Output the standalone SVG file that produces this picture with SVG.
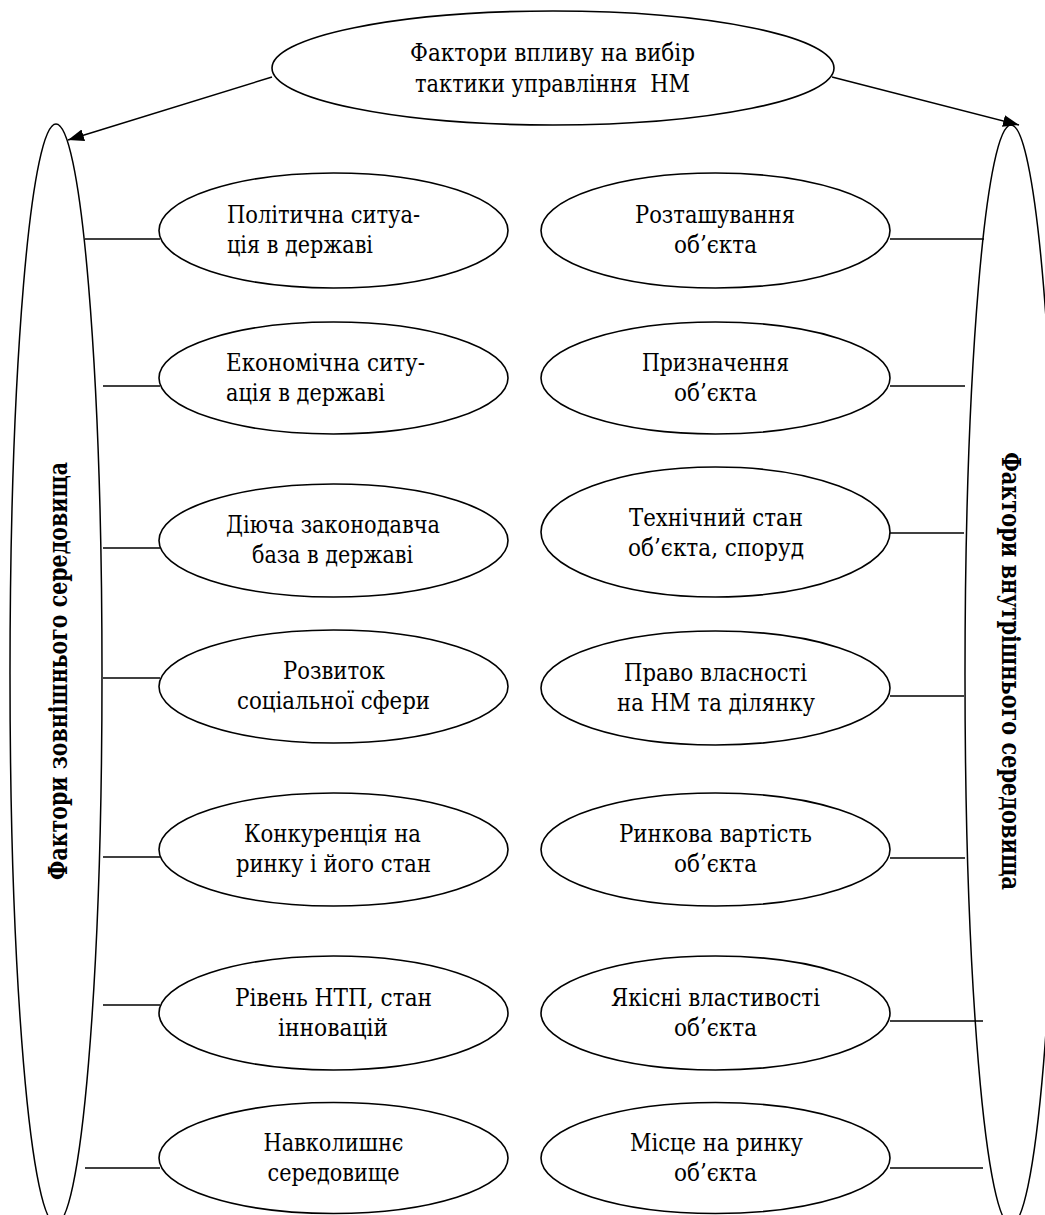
<svg xmlns="http://www.w3.org/2000/svg" width="1045" height="1215" viewBox="0 0 1045 1215">
<style>
  .bg { fill: #ffffff; }
  .node ellipse { fill: #ffffff; stroke: #000000; stroke-width: 1.6; }
  .big ellipse { fill: none; stroke: #000000; stroke-width: 1.5; }
  text { font-family: "DejaVu Serif", "Liberation Serif", serif; font-stretch: condensed; fill: #000000; }
  .t { font-size: 25px; text-anchor: middle; }
  .ts { font-size: 25px; text-anchor: start; }
  .tb { font-size: 26px; font-weight: bold; text-anchor: middle; }
  .conn line { stroke: #000000; stroke-width: 1.4; }
  .arrow { stroke: #000000; stroke-width: 1.5; fill: none; marker-end: url(#ah); }
</style>
<defs>
  <marker id="ah" markerUnits="userSpaceOnUse" markerWidth="18" markerHeight="14" refX="16" refY="6" orient="auto">
    <path d="M0,0 L16,6 L0,12 Z" fill="#000000"/>
  </marker>
</defs>
<rect class="bg" x="0" y="0" width="1045" height="1215"/>

<g id="left-group" class="big">
  <ellipse cx="56" cy="674" rx="46" ry="550"/>
  <text class="tb" transform="translate(67,671) rotate(-90)" textLength="418" lengthAdjust="spacingAndGlyphs">Фактори зовнішнього середовища</text>
</g>
<g id="right-group" class="big">
  <ellipse cx="1011" cy="675" rx="46" ry="550"/>
  <text class="tb" transform="translate(1002,671) rotate(90)" textLength="438" lengthAdjust="spacingAndGlyphs">Фактори внутрішнього середовища</text>
</g>

<g id="connectors" class="conn">
  <path class="arrow" d="M272,77 L68,140"/>
  <path class="arrow" d="M832,77 L1019,125"/>
  <line x1="85" y1="239" x2="160" y2="239"/>
  <line x1="103" y1="386" x2="160" y2="386"/>
  <line x1="103" y1="548" x2="160" y2="548"/>
  <line x1="103" y1="678" x2="160" y2="678"/>
  <line x1="103" y1="857" x2="160" y2="857"/>
  <line x1="103" y1="1005" x2="160" y2="1005"/>
  <line x1="85" y1="1168" x2="160" y2="1168"/>
  <line x1="890" y1="239" x2="984" y2="239"/>
  <line x1="890" y1="386" x2="965" y2="386"/>
  <line x1="890" y1="533" x2="964" y2="533"/>
  <line x1="890" y1="696" x2="964" y2="696"/>
  <line x1="890" y1="858" x2="965" y2="858"/>
  <line x1="890" y1="1021" x2="983" y2="1021"/>
  <line x1="890" y1="1168" x2="983" y2="1168"/>
</g>

<g id="top" class="node">
  <ellipse cx="553" cy="68" rx="281" ry="57"/>
  <text class="t" x="552.5" y="61" textLength="285" lengthAdjust="spacingAndGlyphs">Фактори впливу на вибір</text>
  <text class="t" x="552.5" y="92" xml:space="preserve" textLength="275" lengthAdjust="spacingAndGlyphs">тактики управління  НМ</text>
</g>

<g id="l1" class="node">
  <ellipse cx="333.5" cy="230.5" rx="174.5" ry="57.5"/>
  <text class="ts" x="227" y="223" textLength="193" lengthAdjust="spacingAndGlyphs">Політична ситуа-</text>
  <text class="ts" x="227" y="253" textLength="146" lengthAdjust="spacingAndGlyphs">ція в державі</text>
</g>
<g id="l2" class="node">
  <ellipse cx="333.5" cy="378" rx="174.5" ry="56"/>
  <text class="ts" x="226" y="371" textLength="199" lengthAdjust="spacingAndGlyphs">Економічна ситу-</text>
  <text class="ts" x="226" y="401" textLength="159" lengthAdjust="spacingAndGlyphs">ація в державі</text>
</g>
<g id="l3" class="node">
  <ellipse cx="333.5" cy="540.5" rx="174.5" ry="56.5"/>
  <text class="t" x="333" y="533" textLength="214" lengthAdjust="spacingAndGlyphs">Діюча законодавча</text>
  <text class="t" x="332.5" y="563" textLength="161" lengthAdjust="spacingAndGlyphs">база в державі</text>
</g>
<g id="l4" class="node">
  <ellipse cx="333.5" cy="686.5" rx="174.5" ry="56.5"/>
  <text class="t" x="334" y="679" textLength="102" lengthAdjust="spacingAndGlyphs">Розвиток</text>
  <text class="t" x="333.5" y="709" textLength="193" lengthAdjust="spacingAndGlyphs">соціальної сфери</text>
</g>
<g id="l5" class="node">
  <ellipse cx="333.5" cy="849.5" rx="174.5" ry="56.5"/>
  <text class="t" x="332.5" y="842" textLength="177" lengthAdjust="spacingAndGlyphs">Конкуренція на</text>
  <text class="t" x="333.5" y="872" textLength="195" lengthAdjust="spacingAndGlyphs">ринку і його стан</text>
</g>
<g id="l6" class="node">
  <ellipse cx="333.5" cy="1013" rx="174.5" ry="57"/>
  <text class="t" x="333.5" y="1006" textLength="197" lengthAdjust="spacingAndGlyphs">Рівень НТП, стан</text>
  <text class="t" x="333" y="1036" textLength="110" lengthAdjust="spacingAndGlyphs">інновацій</text>
</g>
<g id="l7" class="node">
  <ellipse cx="333.5" cy="1158" rx="174.5" ry="55.5"/>
  <text class="t" x="333.5" y="1151" textLength="140" lengthAdjust="spacingAndGlyphs">Навколишнє</text>
  <text class="t" x="333.5" y="1181" textLength="132" lengthAdjust="spacingAndGlyphs">середовище</text>
</g>

<g id="r1" class="node">
  <ellipse cx="715.5" cy="230.5" rx="174.5" ry="57.5"/>
  <text class="t" x="715" y="223" textLength="160" lengthAdjust="spacingAndGlyphs">Розташування</text>
  <text class="t" x="715.5" y="253" textLength="83" lengthAdjust="spacingAndGlyphs">об’єкта</text>
</g>
<g id="r2" class="node">
  <ellipse cx="715.5" cy="378" rx="174.5" ry="56"/>
  <text class="t" x="715.5" y="371" textLength="147" lengthAdjust="spacingAndGlyphs">Призначення</text>
  <text class="t" x="715.5" y="401" textLength="83" lengthAdjust="spacingAndGlyphs">об’єкта</text>
</g>
<g id="r3" class="node">
  <ellipse cx="715.5" cy="532" rx="174.5" ry="65"/>
  <text class="t" x="716" y="526" textLength="174" lengthAdjust="spacingAndGlyphs">Технічний стан</text>
  <text class="t" x="716" y="556" textLength="176" lengthAdjust="spacingAndGlyphs">об’єкта, споруд</text>
</g>
<g id="r4" class="node">
  <ellipse cx="715.5" cy="688" rx="174.5" ry="57"/>
  <text class="t" x="715.5" y="681" textLength="183" lengthAdjust="spacingAndGlyphs">Право власності</text>
  <text class="t" x="716" y="711" textLength="198" lengthAdjust="spacingAndGlyphs">на НМ та ділянку</text>
</g>
<g id="r5" class="node">
  <ellipse cx="715.5" cy="849.5" rx="174.5" ry="56.5"/>
  <text class="t" x="715.5" y="842" textLength="193" lengthAdjust="spacingAndGlyphs">Ринкова вартість</text>
  <text class="t" x="715.5" y="872" textLength="83" lengthAdjust="spacingAndGlyphs">об’єкта</text>
</g>
<g id="r6" class="node">
  <ellipse cx="715.5" cy="1013" rx="174.5" ry="57"/>
  <text class="t" x="715.5" y="1006" textLength="209" lengthAdjust="spacingAndGlyphs">Якісні властивості</text>
  <text class="t" x="715.5" y="1036" textLength="83" lengthAdjust="spacingAndGlyphs">об’єкта</text>
</g>
<g id="r7" class="node">
  <ellipse cx="715.5" cy="1158" rx="174.5" ry="55.5"/>
  <text class="t" x="716.5" y="1151" textLength="173" lengthAdjust="spacingAndGlyphs">Місце на ринку</text>
  <text class="t" x="715.5" y="1181" textLength="83" lengthAdjust="spacingAndGlyphs">об’єкта</text>
</g>
</svg>
